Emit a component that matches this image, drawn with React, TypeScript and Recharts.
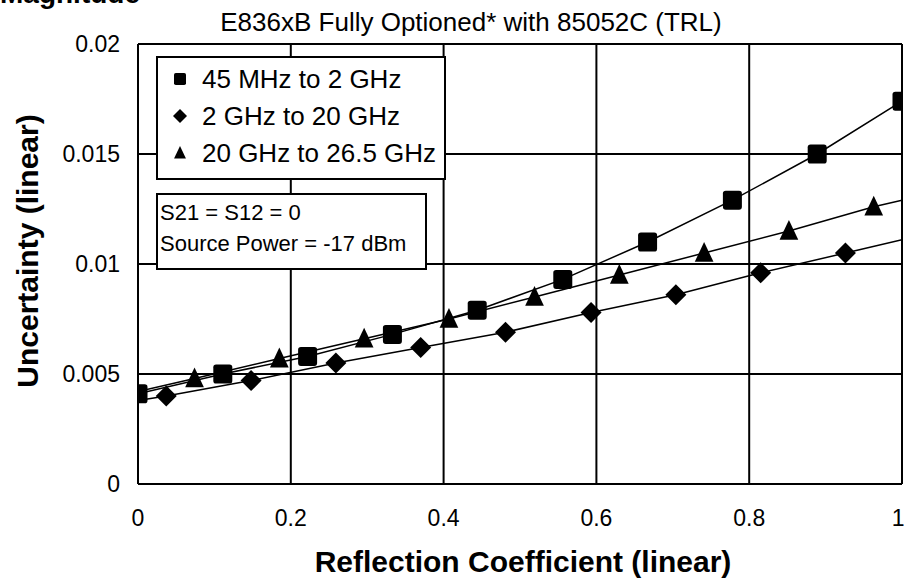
import { LineChart, Line, XAxis, YAxis, CartesianGrid } from 'recharts';

// 45 MHz to 2 GHz (squares)
const squareX = [0, 0.111, 0.222, 0.333, 0.444, 0.556, 0.667, 0.778, 0.889, 1];
const squareY = [0.0041, 0.005, 0.0058, 0.0068, 0.0079, 0.0093, 0.011, 0.0129, 0.015, 0.0174];

// 2 GHz to 20 GHz (diamonds)
const diamondX = [0.037, 0.148, 0.259, 0.37, 0.481, 0.593, 0.704, 0.815, 0.926];
const diamondY = [0.004, 0.0047, 0.0055, 0.0062, 0.0069, 0.0078, 0.0086, 0.0096, 0.0105];
const diamondEnds = [0.0038, 0.0111];

// 20 GHz to 26.5 GHz (triangles)
const triangleX = [0.074, 0.185, 0.296, 0.407, 0.519, 0.63, 0.741, 0.852, 0.963];
const triangleY = [0.0048, 0.0057, 0.0066, 0.0075, 0.0085, 0.0095, 0.0105, 0.0115, 0.0126];
const triangleEnds = [0.0042, 0.0129];

const seriesNames = ['45 MHz to 2 GHz', '2 GHz to 20 GHz', '20 GHz to 26.5 GHz'];
const xTicks = [0, 0.2, 0.4, 0.6, 0.8, 1];
const yTicks = [0, 0.005, 0.01, 0.015, 0.02];

const points = (xs: number[], ys: number[]) => xs.map((x, i) => ({ x, y: ys[i], marker: true }));

const squareData = points(squareX, squareY);
const diamondData = [
  { x: 0, y: diamondEnds[0], marker: false },
  ...points(diamondX, diamondY),
  { x: 1, y: diamondEnds[1], marker: false },
];
const triangleData = [
  { x: 0, y: triangleEnds[0], marker: false },
  ...points(triangleX, triangleY),
  { x: 1, y: triangleEnds[1], marker: false },
];

const FONT = "'Liberation Sans', Arial, sans-serif";

function Marker({ kind, cx, cy, size }: { kind: string; cx: number; cy: number; size: number }) {
  const h = size / 2;
  if (kind === 'square') {
    return <rect x={cx - h} y={cy - h} width={size} height={size} rx={size * 0.15} fill="#000" />;
  }
  if (kind === 'diamond') {
    return <polygon points={`${cx},${cy - h} ${cx + h},${cy} ${cx},${cy + h} ${cx - h},${cy}`} fill="#000" />;
  }
  return <polygon points={`${cx},${cy - h} ${cx + h * 0.85},${cy + h * 0.8} ${cx - h * 0.85},${cy + h * 0.8}`} fill="#000" />;
}

const makeDot = (kind: string, size: number) => (props: any) => {
  const { cx, cy, payload, index } = props;
  if (!payload || !payload.marker) return <g key={`e-${kind}-${index}`} />;
  return (
    <g key={`d-${kind}-${index}`}>
      <Marker kind={kind} cx={cx} cy={cy} size={size} />
    </g>
  );
};

const legendKinds = ['square', 'diamond', 'triangle'];

export default function App() {
  return (
    <div style={{ position: 'absolute', left: 0, top: 0, width: 904, height: 585, background: '#fff', overflow: 'hidden' }}>
      <LineChart width={904} height={585} margin={{ top: 44, right: 2, bottom: 0, left: 18 }}>
        <CartesianGrid stroke="#000" strokeWidth={2} horizontalValues={yTicks} verticalValues={xTicks} />
        <XAxis
          type="number"
          dataKey="x"
          domain={[0, 1]}
          ticks={xTicks}
          height={101}
          tickSize={0}
          tickMargin={26}
          axisLine={{ stroke: '#000', strokeWidth: 2 }}
          tick={{ fill: '#000', fontSize: 23, fontFamily: FONT }}
          allowDataOverflow
        />
        <YAxis
          type="number"
          dataKey="y"
          domain={[0, 0.02]}
          ticks={yTicks}
          width={120}
          tickSize={0}
          tickMargin={18}
          axisLine={{ stroke: '#000', strokeWidth: 2 }}
          tick={{ fill: '#000', fontSize: 23, fontFamily: FONT }}
          allowDataOverflow
        />
        <Line
          data={squareData}
          dataKey="y"
          stroke="#000"
          strokeWidth={1.5}
          dot={makeDot('square', 19)}
          activeDot={false}
          isAnimationActive={false}
        />
        <Line
          data={diamondData}
          dataKey="y"
          stroke="#000"
          strokeWidth={1.5}
          dot={makeDot('diamond', 21)}
          activeDot={false}
          isAnimationActive={false}
        />
        <Line
          data={triangleData}
          dataKey="y"
          stroke="#000"
          strokeWidth={1.5}
          dot={makeDot('triangle', 22)}
          activeDot={false}
          isAnimationActive={false}
        />
      </LineChart>

      <div style={{ position: 'absolute', left: 0, top: -22, fontFamily: FONT, fontWeight: 'bold', fontSize: 28, whiteSpace: 'nowrap' }}>
        Magnitude
      </div>
      <div
        style={{
          position: 'absolute',
          left: 213,
          top: 6,
          width: 516,
          textAlign: 'center',
          fontFamily: FONT,
          fontSize: 26,
          whiteSpace: 'nowrap',
          lineHeight: '32px',
        }}
      >
        E836xB Fully Optioned* with 85052C (TRL)
      </div>

      <div
        style={{
          position: 'absolute',
          left: 156,
          top: 56,
          width: 290,
          height: 124,
          boxSizing: 'border-box',
          border: '2px solid #000',
          background: '#fff',
          fontFamily: FONT,
          fontSize: 26,
        }}
      >
        {seriesNames.map((name, i) => (
          <div key={name} style={{ position: 'absolute', left: 0, top: 4 + i * 37, height: 34, display: 'flex', alignItems: 'center', whiteSpace: 'nowrap' }}>
            <svg width={44} height={34}>
              <Marker kind={legendKinds[i]} cx={22} cy={17} size={i === 2 ? 14 : i === 1 ? 14 : 12} />
            </svg>
            <span>{name}</span>
          </div>
        ))}
      </div>

      <div
        style={{
          position: 'absolute',
          left: 156,
          top: 193,
          width: 271,
          height: 77,
          boxSizing: 'border-box',
          border: '2px solid #000',
          background: '#fff',
          fontFamily: FONT,
          fontSize: 22,
          lineHeight: '31px',
          padding: '2px 0 0 2px',
          whiteSpace: 'nowrap',
        }}
      >
        <div>S21 = S12 = 0</div>
        <div>Source Power = -17 dBm</div>
      </div>

      <div
        style={{
          position: 'absolute',
          left: 308,
          top: 544,
          width: 430,
          textAlign: 'center',
          fontFamily: FONT,
          fontWeight: 'bold',
          fontSize: 30,
          whiteSpace: 'nowrap',
          lineHeight: '36px',
        }}
      >
        Reflection Coefficient (linear)
      </div>
      <div
        style={{
          position: 'absolute',
          left: 28 - 150,
          top: 251 - 18,
          width: 300,
          textAlign: 'center',
          fontFamily: FONT,
          fontWeight: 'bold',
          fontSize: 30,
          whiteSpace: 'nowrap',
          lineHeight: '36px',
          transform: 'rotate(-90deg)',
        }}
      >
        Uncertainty (linear)
      </div>
    </div>
  );
}
